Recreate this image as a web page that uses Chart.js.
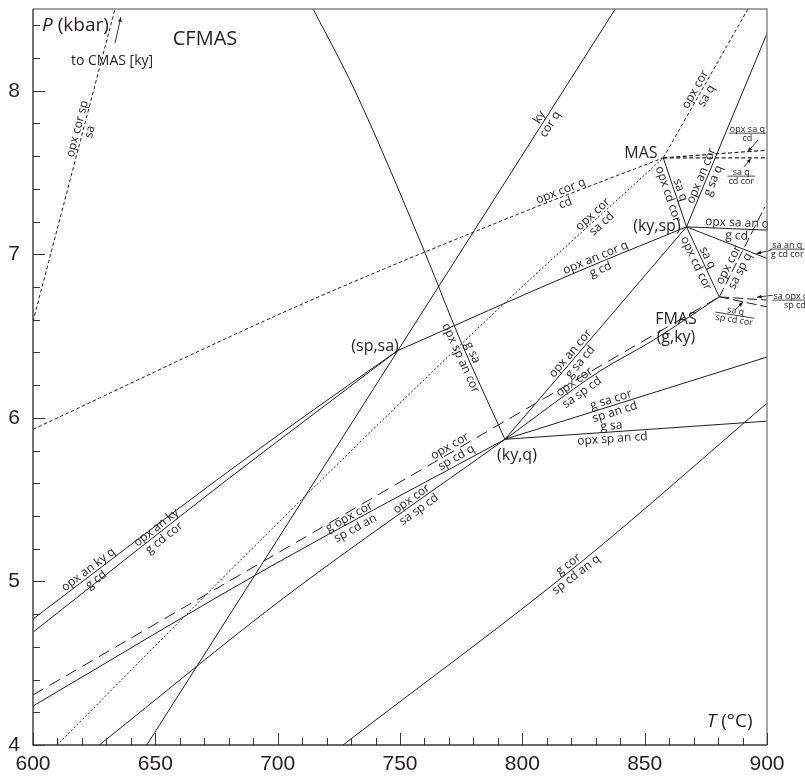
<!DOCTYPE html>
<html>
<head>
<meta charset="utf-8">
<title>CFMAS P–T grid</title>
<script src="https://cdn.jsdelivr.net/npm/chart.js@4.4.1/dist/chart.umd.min.js"></script>
<style>
  html, body { margin: 0; padding: 0; background: #fff; }
  #wrap { width: 805px; height: 776px; }
</style>
</head>
<body>
<div id="wrap"><canvas id="grid" width="805" height="776"></canvas></div>
<script>
// axes: temperature (°C) and pressure (kbar)
const tRange = [600, 900];
const pRange = [4, 8.5];
const tTicks = [600, 650, 700, 750, 800, 850, 900];
const pTicks = [4, 5, 6, 7, 8];

// invariant points [T, P]
const MAS = [857.6, 7.59];
const KY_SP = [867.1, 7.168];
const G_KY = [880.5, 6.74];
const SP_SA = [748.9, 6.41];
const KY_Q = [792.9, 5.869];

// univariant reactions, [T, P] along each curve
const opxCorSp_sa = [[600, 6.59], [633.5, 8.5]];
const opxCorQ_cd = [[600, 5.93], [709.1, 6.69], [799.0, 7.25], MAS];
const opxCor_saQ = [MAS, [892.2, 8.5]];
const opxCor_saCd = [[609.8, 4.0], [696.9, 5.31], [785.5, 6.6], MAS];
const opxSaQ_cd = [MAS, [900, 7.637]];
const saQ_cdCor = [MAS, [900, 7.59]];
const ky_corQ = [[646.5, 4.0], [838.0, 8.5]];
const gSa_opxSpAnCor = [[714.5, 8.5], [731.6, 8.0], [760.2, 7.01], [774.5, 6.48], KY_Q];
const opxAnKyQ_gCd = [[600, 4.77], [675.1, 5.62], [709.1, 5.99], SP_SA];
const opxAnKy_gCdCor = [[600, 4.69], [679.2, 5.62], [709.1, 5.96], SP_SA];
const opxAnCorQ_gCd = [SP_SA, [823.5, 6.9], KY_SP];
const opxAnCor_gSa = [KY_Q, KY_SP, [900, 8.35]];
const saQ_opxCdCor_MAS = [MAS, KY_SP];
const opxSaAnQ_gCd = [KY_SP, [900, 7.148]];
const saAnQ_gCdCor = [KY_SP, [900, 6.975]];
const saQ_opxCdCor = [KY_SP, G_KY];
const opxCor_saSpQ = [G_KY, [899.1, 7.29]];
const saOpxCor_spCd = [G_KY, [900, 6.72]];
const saQ_spCdCor = [G_KY, [900, 6.679]];
const opxCor_spCdQ = [[600, 4.306], G_KY];
const gOpxCor_spCdAn = [[600, 4.238], [696.9, 5.09], KY_Q];
const opxCor_saSpCd = [[627.1, 4.0], [702.3, 4.897], KY_Q, [831.7, 6.286], [853.0, 6.47], G_KY];
const gSaCor_spAnCd = [KY_Q, [900, 6.372]];
const gSa_opxSpAnCd = [KY_Q, [900, 5.98]];
const gCor_spCdAnQ = [[726.7, 4.0], [823.5, 5.112], [900, 6.09]];

const ink = '#231f20';
const dashes = {
  solid: [],
  dot: [3.5, 2.5],
  fine: [2, 2],
  long: [12, 7],
  mid: [10, 4],
  mas: [4, 2.5]
};

const reactions = [
  { pts: opxCorSp_sa, style: 'dot' },
  { pts: opxCorQ_cd, style: 'dot', curve: true },
  { pts: opxCor_saQ, style: 'dot' },
  { pts: opxCor_saCd, style: 'fine', curve: true },
  { pts: opxSaQ_cd, style: 'mas', width: 1.2 },
  { pts: saQ_cdCor, style: 'mas', width: 1.2 },
  { pts: ky_corQ, style: 'solid' },
  { pts: gSa_opxSpAnCor, style: 'solid', curve: true },
  { pts: opxAnKyQ_gCd, style: 'solid', curve: true },
  { pts: opxAnKy_gCdCor, style: 'solid', curve: true },
  { pts: opxAnCorQ_gCd, style: 'solid', curve: true },
  { pts: opxAnCor_gSa, style: 'solid' },
  { pts: saQ_opxCdCor_MAS, style: 'solid' },
  { pts: opxSaAnQ_gCd, style: 'solid' },
  { pts: saAnQ_gCdCor, style: 'solid' },
  { pts: saQ_opxCdCor, style: 'solid' },
  { pts: opxCor_saSpQ, style: 'mid' },
  { pts: saOpxCor_spCd, style: 'mid' },
  { pts: saQ_spCdCor, style: 'mid' },
  { pts: opxCor_spCdQ, style: 'long' },
  { pts: gOpxCor_spCdAn, style: 'solid', curve: true },
  { pts: opxCor_saSpCd, style: 'solid', curve: true },
  { pts: gSaCor_spAnCd, style: 'solid' },
  { pts: gSa_opxSpAnCd, style: 'solid' },
  { pts: gCor_spCdAnQ, style: 'solid', curve: true }
];

// reaction labels written on the curves: products above, reactants below
const tags = [
  { on: opxCorSp_sa, t: 620.5, top: 'opx cor sp', bottom: 'sa' },
  { on: ky_corQ, t: 809, top: 'ky', bottom: 'cor q' },
  { on: opxCor_saQ, t: 872.8, top: 'opx cor', bottom: 'sa q' },
  { on: opxCorQ_cd, t: 816.6, top: 'opx cor q', bottom: 'cd' },
  { on: opxCor_saCd, t: 830.5, top: 'opx cor', bottom: 'sa cd' },
  { on: saQ_opxCdCor_MAS, t: 862.3, top: 'sa q', bottom: 'opx cd cor' },
  { on: opxAnCor_gSa, t: 875.4, top: 'opx an cor', bottom: 'g sa q' },
  { on: opxAnCorQ_gCd, t: 830.9, top: 'opx an cor q', bottom: 'g cd' },
  { on: opxSaAnQ_gCd, t: 887.7, top: 'opx sa an q', bottom: 'g cd' },
  { on: saQ_opxCdCor, t: 873.5, top: 'sa q', bottom: 'opx cd cor' },
  { on: opxCor_saSpQ, t: 886.5, top: 'opx cor', bottom: 'sa sp q' },
  { on: gSa_opxSpAnCor, t: 777.4, top: 'g sa', bottom: 'opx sp an cor' },
  { on: opxAnCor_gSa, t: 821.5, top: 'opx an cor', bottom: 'g sa cd' },
  { on: opxCor_saSpCd, t: 822.7, top: 'opx cor', bottom: 'sa sp cd' },
  { on: gSaCor_spAnCd, t: 837, top: 'g sa cor', bottom: 'sp an cd' },
  { on: gSa_opxSpAnCd, t: 836.6, top: 'g sa', bottom: 'opx sp an cd' },
  { on: opxCor_spCdQ, t: 771.6, top: 'opx cor', bottom: 'sp cd q' },
  { on: gOpxCor_spCdAn, t: 730.4, top: 'g opx cor', bottom: 'sp cd an' },
  { on: opxCor_saSpCd, t: 756.1, top: 'opx cor', bottom: 'sa sp cd' },
  { on: opxAnKyQ_gCd, t: 624.1, top: 'opx an ky q', bottom: 'g cd' },
  { on: opxAnKy_gCdCor, t: 651.9, top: 'opx an ky', bottom: 'g cd cor' },
  { on: gCor_spCdAnQ, t: 820.3, top: 'g cor', bottom: 'sp cd an q' }
];

// small labels with a fraction bar, pointed at their curves by arrows
const callouts = [
  { at: [892.0, 7.741], top: 'opx sa q', bottom: 'cd', rot: 0 },
  { at: [889.5, 7.478], top: 'sa q', bottom: 'cd cor', rot: 0 },
  { at: [908.3, 7.032], top: 'sa an q', bottom: 'g cd cor', rot: 0 },
  { at: [911.4, 6.72], top: 'sa opx cor', bottom: 'sp cd', rot: 0 },
  { at: [886.9, 6.628], top: 'sa q', bottom: 'sp cd cor', rot: 9 }
];
const arrows = [
  [[633.5, 8.29], [635.9, 8.45]],
  [[896.4, 7.70], [892.1, 7.627]],
  [[890.6, 7.535], [893.5, 7.586]],
  [[901.9, 7.026], [895.7, 7.005]],
  [[902.4, 6.75], [895.9, 6.738]],
  [[886.9, 6.659], [890.2, 6.708]]
];

// point and field names
const marks = [
  { text: 'CFMAS', at: [670.3, 8.312], size: 20 },
  { text: 'to CMAS [ky]', at: [632.3, 8.181], size: 14 },
  { text: 'MAS', at: [848.5, 7.619], size: 16 },
  { text: '(ky,sp)', at: [855.0, 7.172], size: 16 },
  { text: 'FMAS', at: [862.8, 6.601], size: 16 },
  { text: '(g,ky)', at: [862.8, 6.491], size: 16 },
  { text: '(sp,sa)', at: [739.8, 6.439], size: 16 },
  { text: '(ky,q)', at: [797.8, 5.773], size: 16 }
];
const titles = [
  { sym: 'P', rest: ' (kbar)', at: [603.7, 8.40] },
  { sym: 'T', rest: ' (°C)', at: [875.4, 4.141] }
];

const sans = (size, style = '') => `${style} ${size}px "Open Sans", sans-serif`;

const annotate = {
  id: 'annotate',
  afterDatasetsDraw(chart) {
    const { ctx } = chart;
    const X = chart.scales.x, Y = chart.scales.y;
    const toPx = ([t, p]) => [X.getPixelForValue(t), Y.getPixelForValue(p)];
    ctx.save();
    ctx.fillStyle = ink;
    ctx.strokeStyle = ink;
    ctx.textAlign = 'center';

    ctx.font = sans(12);
    tags.forEach(tag => {
      const pts = tag.on;
      let i = 0;
      while (i < pts.length - 2 && tag.t > pts[i + 1][0]) i++;
      const [t0, p0] = pts[i], [t1, p1] = pts[i + 1];
      const f = (tag.t - t0) / (t1 - t0);
      const [x, y] = toPx([tag.t, p0 + f * (p1 - p0)]);
      const [ax, ay] = toPx(pts[i]), [bx, by] = toPx(pts[i + 1]);
      ctx.save();
      ctx.translate(x, y);
      ctx.rotate(Math.atan2(by - ay, bx - ax));
      ctx.textBaseline = 'alphabetic';
      ctx.fillText(tag.top, 0, -2.5);
      ctx.textBaseline = 'top';
      ctx.fillText(tag.bottom, 0, 1);
      ctx.restore();
    });

    ctx.font = sans(9);
    callouts.forEach(c => {
      const [x, y] = toPx(c.at);
      const w = Math.max(ctx.measureText(c.top).width, ctx.measureText(c.bottom).width);
      ctx.save();
      ctx.translate(x, y);
      ctx.rotate(c.rot * Math.PI / 180);
      ctx.lineWidth = 0.8;
      ctx.beginPath();
      ctx.moveTo(-w / 2 - 1, 0);
      ctx.lineTo(w / 2 + 1, 0);
      ctx.stroke();
      ctx.textBaseline = 'alphabetic';
      ctx.fillText(c.top, 0, -1.5);
      ctx.textBaseline = 'top';
      ctx.fillText(c.bottom, 0, 0.5);
      ctx.restore();
    });

    ctx.lineWidth = 0.9;
    arrows.forEach(([from, to]) => {
      const [x0, y0] = toPx(from), [x1, y1] = toPx(to);
      const a = Math.atan2(y1 - y0, x1 - x0);
      ctx.beginPath();
      ctx.moveTo(x0, y0);
      ctx.lineTo(x1, y1);
      ctx.stroke();
      ctx.beginPath();
      ctx.moveTo(x1, y1);
      ctx.lineTo(x1 - 5 * Math.cos(a - 0.38), y1 - 5 * Math.sin(a - 0.38));
      ctx.lineTo(x1 - 5 * Math.cos(a + 0.38), y1 - 5 * Math.sin(a + 0.38));
      ctx.closePath();
      ctx.fill();
    });

    ctx.textBaseline = 'middle';
    marks.forEach(m => {
      const [x, y] = toPx(m.at);
      ctx.font = sans(m.size);
      ctx.fillText(m.text, x, y);
    });

    ctx.textAlign = 'left';
    titles.forEach(tt => {
      const [x, y] = toPx(tt.at);
      ctx.font = sans(19, 'italic');
      ctx.fillText(tt.sym, x, y);
      const w = ctx.measureText(tt.sym).width;
      ctx.font = sans(19);
      ctx.fillText(tt.rest, x + w, y);
    });
    ctx.restore();
  }
};

// plot frame with inward minor/major ticks on the T and P axes
const frame = {
  id: 'frame',
  afterDraw(chart) {
    const { ctx, chartArea: a } = chart;
    const X = chart.scales.x, Y = chart.scales.y;
    ctx.save();
    ctx.lineWidth = 1.4;
    ctx.strokeStyle = '#808285';
    ctx.beginPath();
    ctx.moveTo(a.left, a.top);
    ctx.lineTo(a.right, a.top);
    ctx.lineTo(a.right, a.bottom);
    ctx.stroke();
    ctx.strokeStyle = '#3a3738';
    ctx.beginPath();
    ctx.moveTo(a.left, a.top);
    ctx.lineTo(a.left, a.bottom);
    ctx.lineTo(a.right, a.bottom);
    ctx.stroke();
    ctx.lineWidth = 1;
    ctx.beginPath();
    for (let t = tRange[0]; t <= tRange[1]; t += 10) {
      const x = Math.round(X.getPixelForValue(t)) + 0.5;
      ctx.moveTo(x, a.bottom);
      ctx.lineTo(x, a.bottom - (t % 50 === 0 ? 12 : 7));
    }
    for (let k = 0; k <= Math.round((pRange[1] - pRange[0]) / 0.2); k++) {
      const p = pRange[0] + k * 0.2;
      const y = Math.round(Y.getPixelForValue(p)) + 0.5;
      ctx.moveTo(a.left, y);
      ctx.lineTo(a.left + (Math.abs(p - Math.round(p)) < 1e-6 ? 12 : 7), y);
    }
    ctx.stroke();
    ctx.restore();
  }
};

const tickFont = { family: 'Liberation Sans', size: 21 };

new Chart(document.getElementById('grid'), {
  type: 'scatter',
  data: {
    datasets: reactions.map(r => ({
      data: r.pts.map(([x, y]) => ({ x, y })),
      showLine: true,
      pointRadius: 0,
      pointHoverRadius: 0,
      borderColor: ink,
      borderWidth: r.width || 1,
      borderDash: dashes[r.style],
      tension: 0,
      cubicInterpolationMode: r.curve ? 'monotone' : 'default',
      fill: false
    }))
  },
  options: {
    responsive: false,
    animation: false,
    events: [],
    layout: { padding: { top: 9, right: 38, left: 0, bottom: 0 } },
    plugins: { legend: { display: false }, tooltip: { enabled: false } },
    scales: {
      x: {
        type: 'linear',
        min: tRange[0],
        max: tRange[1],
        grid: { display: false, drawTicks: false },
        border: { display: false },
        ticks: { color: ink, font: tickFont, padding: 7, maxRotation: 0 },
        afterBuildTicks: s => { s.ticks = tTicks.map(v => ({ value: v })); },
        afterFit: s => { s.height = 31; s.paddingLeft = 0; s.paddingRight = 0; }
      },
      y: {
        type: 'linear',
        min: pRange[0],
        max: pRange[1],
        grid: { display: false, drawTicks: false },
        border: { display: false },
        ticks: { color: ink, font: tickFont, padding: 13 },
        afterBuildTicks: s => { s.ticks = pTicks.map(v => ({ value: v })); },
        afterFit: s => { s.width = 33; s.paddingTop = 0; s.paddingBottom = 0; }
      }
    }
  },
  plugins: [annotate, frame]
});
</script>
</body>
</html>
